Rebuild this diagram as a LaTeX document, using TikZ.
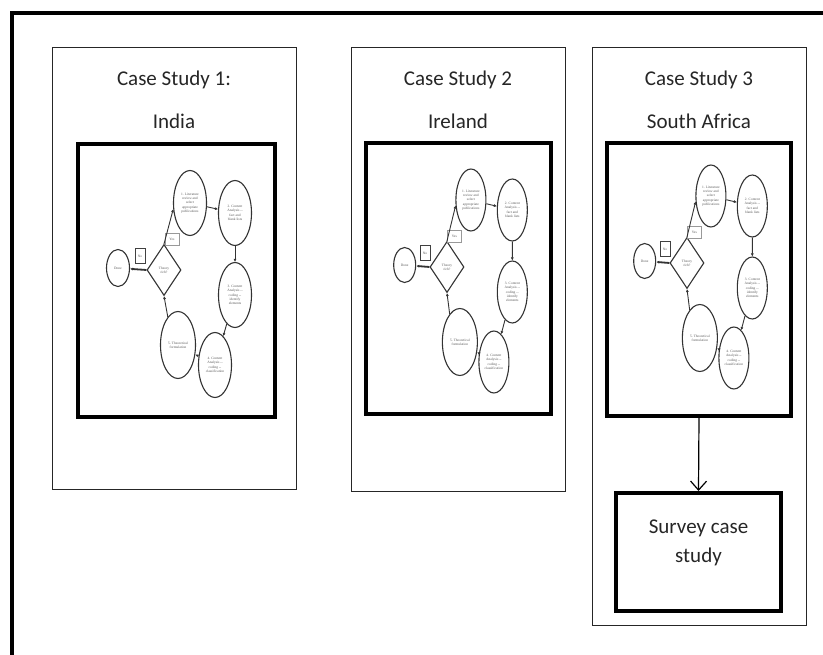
\documentclass[tikz,border=0pt]{standalone}
\usepackage{fontspec}
\setmainfont{Carlito}
\newfontfamily\flowfont{Liberation Serif}
\usetikzlibrary{shapes.geometric,arrows.meta}

\tikzset{
  x=1pt, y=-1pt,
  casebox/.style={draw=black!85, line width=1pt, inner sep=0},
  heavyframe/.style={draw=black, line width=4pt, inner sep=0},
  casetitle/.style={font=\fontsize{21}{25}\selectfont, text=black!85, inner sep=0},
  tinytext/.style={font=\flowfont\fontsize{3.5}{4.3}\selectfont, text=black!65},
  fell/.style={ellipse, draw=black!80, line width=1.1pt, minimum width=33pt,
    minimum height=65pt, inner sep=0, align=center, tinytext},
  fdone/.style={ellipse, draw=black!80, line width=1.1pt, minimum width=23pt,
    minimum height=37pt, inner sep=0, align=center, tinytext},
  fdiam/.style={diamond, draw=black!80, line width=1.1pt, minimum width=34pt,
    minimum height=51pt, inner sep=0, align=center, tinytext},
  flabel/.style={rectangle, line width=0.7pt, inner sep=0, tinytext},
  farrow/.style={draw=black!80, line width=0.9pt, -{Latex[length=3pt,width=3pt]}},
  fsmall/.style={fell/.append style={minimum width=30pt, minimum height=62pt},
    fdone/.append style={minimum width=22pt, minimum height=35pt}},
  % research-cycle flowchart, positioned by its decision diamond
  flow/.pic={
    \node[fdiam] (-d) at (0,0) {Theory\\rich?};
    \node[fdone] (-done) at (-46,-2) {Done};
    \node[fell] (-e1) at (26,-67) {1. Literature\\review and\\select\\appropriate\\publications};
    \node[fell] (-e2) at (71,-57) {2. Content\\Analysis --\\fact and\\blank lists};
    \node[fell] (-e3) at (71,25) {3. Content\\Analysis --\\coding --\\identify\\elements};
    \node[fell] (-e4) at (51,95) {4. Content\\Analysis --\\coding --\\classification};
    \node[fell, minimum width=35pt, minimum height=67pt] (-e5) at (14,75) {5. Theoretical\\formulation};
    \node[flabel, draw=black!75, minimum width=10pt, minimum height=15pt] (-no) at (-24,-14) {No};
    \node[flabel, draw=black!40, minimum width=14pt, minimum height=12pt] (-yes) at (8,-31) {Yes};
    \draw[farrow] (-d.north) -- (-e1.200);
    \draw[farrow] (-e1) -- (-e2);
    \draw[farrow] (-e2) -- (-e3);
    \draw[farrow] (-e3) -- (-e4);
    \draw[farrow] (-e4) -- (-e5);
    \draw[farrow] (-e5.110) -- (-d.south);
    \draw[farrow, line width=1.8pt] (-d.west) -- (-done);
  }
}

\begin{document}
\begin{tikzpicture}
  \useasboundingbox (0,0) rectangle (823,655);
  \fill[white] (0,0) rectangle (823,655);

  % open outer frame (left and top edges)
  \draw[line width=4pt] (12,670) -- (12,13) -- (840,13);

  % case study panels
  \node[casebox, minimum width=244pt, minimum height=441pt] (cs1) at (174,268.5) {};
  \node[casebox, minimum width=214pt, minimum height=443pt] (cs2) at (458,269.5) {};
  \node[casebox, minimum width=214pt, minimum height=577pt] (cs3) at (699,336.5) {};

  \node[casetitle] (t1a) at (174,80) {Case Study 1:};
  \node[casetitle] (t1b) at (174,121) {India};
  \node[casetitle] (t2a) at (458,80) {Case Study 2};
  \node[casetitle] (t2b) at (458,121) {Ireland};
  \node[casetitle] (t3a) at (699,80) {Case Study 3};
  \node[casetitle] (t3b) at (699,121) {South Africa};

  % framed flowcharts
  \node[heavyframe, minimum width=197pt, minimum height=273pt] (fr1) at (176.5,280.5) {};
  \node[heavyframe, minimum width=185pt, minimum height=271pt] (fr2) at (458.5,278.5) {};
  \node[heavyframe, minimum width=184pt, minimum height=273pt] (fr3) at (699,279.5) {};

  \pic (f1) at (164,270) {flow};
  \pic[xscale=0.92, fsmall] (f2) at (447,267) {flow};
  \pic[xscale=0.92, fsmall] (f3) at (687,263) {flow};

  % survey step
  \node[heavyframe, minimum width=165pt, minimum height=118pt] (survey) at (698.5,552) {};
  \node[casetitle, align=center, font=\fontsize{21}{29}\selectfont] (surveytext) at (698.5,542.5) {Survey case\\study};
  \draw[line width=1.2pt, -{Straight Barb[length=9pt,width=16pt]}] (fr3.south) -- (survey.north);
\end{tikzpicture}
\end{document}
